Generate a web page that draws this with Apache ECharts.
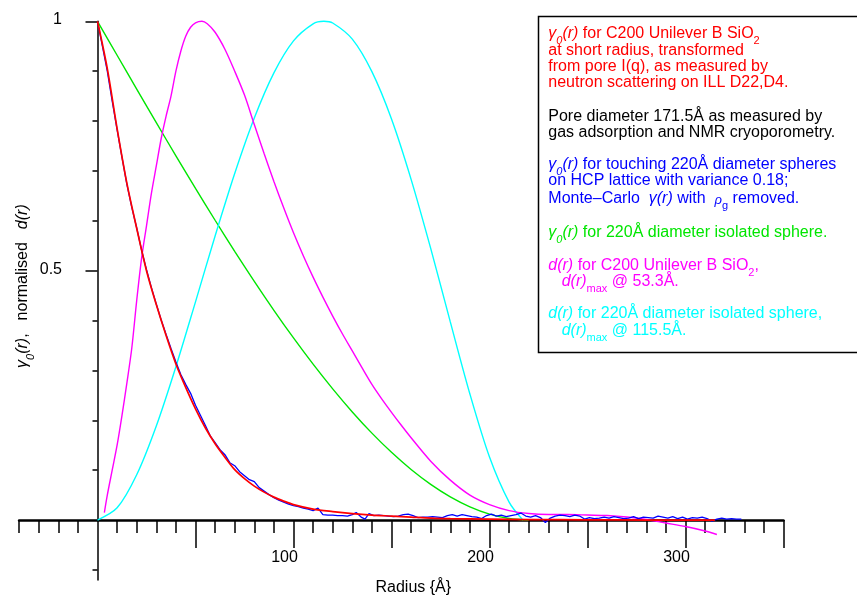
<!DOCTYPE html>
<html>
<head>
<meta charset="utf-8">
<script src="https://cdn.jsdelivr.net/npm/echarts@6/dist/echarts.min.js"></script>
<style>html,body{margin:0;padding:0;background:#fff}#c{width:857px;height:596px}</style>
</head>
<body>
<div id="c"></div>
<script>
// ---------- data (r in Å, normalised value) ----------
const redCurve = [[0,1.0],[5,0.905],[10,0.785],[15,0.675],[20,0.585],[25,0.50],[30,0.432],[35,0.37],[40,0.313],[45,0.266],[50,0.223],[55,0.185],[60,0.153],[65,0.126],[70,0.101],[75,0.083],[80,0.068],[85,0.056],[90,0.046],[95,0.038],[100,0.031],[110,0.022],[120,0.017],[130,0.013],[140,0.010],[150,0.008],[160,0.006],[170,0.004],[180,0.003],[200,0.002],[220,0.001],[250,0.0005],[280,0.0],[315,0.0]];

const blueCurve = [[0,1.0],[2.5,0.95],[5,0.9],[7.5,0.84],[10,0.783],[12.5,0.727],[15,0.673],[17.5,0.627],[20,0.586],[22.5,0.541],[25,0.502],[27.5,0.466],[30,0.433],[32.5,0.401],[35,0.372],[37.5,0.344],[40,0.317],[42.5,0.292],[45,0.272],[47.5,0.254],[50,0.23],[52.5,0.21],[55,0.19],[57.5,0.169],[60,0.155],[62.5,0.141],[65,0.131],[67.5,0.115],[70,0.109],[72.5,0.097],[75,0.089],[77.5,0.081],[80,0.077],[82.5,0.065],[85,0.058],[87.5,0.051],[90,0.045],[92.5,0.04],[95,0.036],[97.5,0.032],[100,0.029],[102.5,0.027],[105,0.024],[107.5,0.022],[110,0.019],[112.5,0.024],[115,0.011],[117.5,0.01],[120,0.01],[122.5,0.009],[125,0.009],[127.5,0.008],[130,0.011],[132,0.015],[134.5,0.006],[136.5,0.002],[138.5,0.013],[141,0.009],[143.5,0.01],[146,0.009],[148.5,0.008],[151,0.007],[153.5,0.008],[156,0.011],[158.5,0.012],[161,0.009],[163.5,0.005],[166,0.006],[168.5,0.006],[171,0.007],[173.5,0.006],[176,0.005],[178.5,0.009],[181,0.011],[183.5,0.008],[186,0.011],[188.5,0.009],[191,0.007],[193.5,0.006],[196,0.003],[198.5,0.009],[201,0.012],[203.5,0.008],[206,0.01],[208.5,0.007],[211,0.009],[213.5,0.011],[216,0.014],[218.5,0.008],[221,0.006],[223.5,0.009],[226,0.005],[228.5,-0.005],[231,0.004],[233.5,0.008],[236,0.01],[238.5,0.009],[241,0.007],[243.5,0.01],[246,0.008],[248.5,0.002],[251,0.005],[253.5,0.003],[256,0.004],[258.5,0.006],[261,0.004],[263.5,0.007],[266,0.005],[268.5,0.003],[271,0.004],[273.5,0.007],[276,0.003],[278.5,0.006],[281,0.005],[283.5,0.004],[286,0.008],[288.5,0.006],[291,0.004],[293.5,0.007],[296,0.003],[298.5,0.006],[301,0.002],[303.5,0.005],[306,0.004],[308.5,0.006],[311,0.003],[313.5,-0.002],[316,0.002],[318.5,0.004],[321,0.002],[323.5,0.003],[326,0.002],[328.5,0.002]];

const greenCurve = [[0,1],[10,0.9319],[20,0.864],[30,0.7967],[40,0.7303],[50,0.665],[60,0.6011],[70,0.5388],[80,0.4786],[90,0.4206],[100,0.3651],[110,0.3125],[120,0.263],[130,0.2168],[140,0.1743],[150,0.1358],[160,0.1014],[170,0.0716],[180,0.0466],[190,0.0266],[200,0.012],[210,0.0031],[220,0]];

const cyanCurve = [[0,0],[10,0.0245],[20,0.0909],[30,0.1887],[40,0.3075],[50,0.4375],[60,0.5695],[70,0.6948],[80,0.8061],[90,0.8966],[100,0.9608],[110,0.995],[115.5,1.0],[120,0.9966],[130,0.9642],[140,0.899],[150,0.8041],[160,0.6831],[170,0.5446],[180,0.3973],[190,0.2527],[200,0.1263],[210,0.036],[217,0]];

const magentaCurve = [[3.5,0.015],[5,0.05],[7.5,0.1],[10,0.15],[12.5,0.21],[15,0.275],[17.5,0.345],[20,0.44],[22.5,0.525],[25,0.59],[27.5,0.655],[30,0.71],[32.5,0.765],[35,0.81],[37.5,0.85],[40,0.9],[42.5,0.94],[45,0.97],[47.5,0.988],[50,0.997],[53.3,1.0],[56,0.995],[60,0.978],[65,0.944],[70,0.9],[75,0.852],[80,0.793],[85,0.735],[90,0.679],[95,0.626],[100,0.576],[105,0.53],[110,0.487],[115,0.447],[120,0.409],[125,0.373],[130,0.339],[135,0.305],[140,0.272],[145,0.243],[150,0.216],[155,0.19],[160,0.165],[170,0.118],[180,0.08],[190,0.05],[200,0.031],[210,0.019],[220,0.013],[230,0.011],[240,0.011],[250,0.010],[260,0.009],[270,0.006],[280,0.001],[290,-0.006],[300,-0.013],[310,-0.022],[316,-0.029]];

// ---------- ticks ----------
const xTicksMinor = [-40,-30,-20,-10,10,20,30,40,60,70,80,90,110,120,130,140,160,170,180,190,210,220,230,240,260,270,280,290,310,320,330,340];
const xTicksMajor = [50,100,150,200,250,300,350];
const xLabels = [100,200,300];
const yTicksMinor = [-0.1,0.1,0.2,0.3,0.4,0.6,0.7,0.8,0.9];
const yTicksMajor = [0.5,1];
const yLabels = [0.5,1];
const xName = 'Radius {Å}';

const FONT = "'Liberation Sans', Arial, Helvetica, sans-serif";

function richFor(color) {
  const base = {fontFamily: FONT, fill: color, color: color};
  return {
    n: Object.assign({}, base, {fontSize: 16, lineHeight: 21, verticalAlign: 'top'}),
    i: Object.assign({}, base, {fontSize: 16, lineHeight: 21, verticalAlign: 'top', fontStyle: 'italic'}),
    ir: Object.assign({}, base, {fontSize: 13, lineHeight: 21, verticalAlign: 'top', fontStyle: 'italic', padding: [3, 0, 0, 0]}),
    s: Object.assign({}, base, {fontSize: 11, lineHeight: 21, verticalAlign: 'bottom'}),
    si: Object.assign({}, base, {fontSize: 11, lineHeight: 21, verticalAlign: 'bottom', fontStyle: 'italic'}),
    g: Object.assign({}, base, {fontSize: 16, lineHeight: 21, verticalAlign: 'top', width: 13})
  };
}

const yNameRich = '{i|γ}{si|0}{i|(r)}{n|,}{g| }{n|normalised}{g| }{i|d(r)}';

const legendLines = [
  {t: '{i|γ}{si|0}{i|(r)}{n| for C200 Unilever B SiO}{s|2}', c: '#ff0000', x: 548.3, b: 39.3},
  {t: '{n|at short radius, transformed}', c: '#ff0000', x: 548.3, b: 55.7},
  {t: '{n|from pore I(q), as measured by}', c: '#ff0000', x: 548.3, b: 71.7},
  {t: '{n|neutron scattering on ILL D22,D4.}', c: '#ff0000', x: 548.3, b: 87.7},
  {t: '{n|Pore diameter 171.5Å as measured by}', c: '#000000', x: 548.3, b: 121.7},
  {t: '{n|gas adsorption and NMR cryoporometry.}', c: '#000000', x: 548.3, b: 137.7},
  {t: '{i|γ}{si|0}{i|(r)}{n| for touching 220Å diameter spheres}', c: '#0000ff', x: 548.3, b: 170},
  {t: '{n|on HCP lattice with variance 0.18;}', c: '#0000ff', x: 548.3, b: 186},
  {t: '{n|Monte–Carlo  }{i|γ(r)}{n| with  }{ir|ρ}{s|g}{n| removed.}', c: '#0000ff', x: 548.3, b: 204.5},
  {t: '{i|γ}{si|0}{i|(r)}{n| for 220Å diameter isolated sphere.}', c: '#00e600', x: 548.3, b: 238.3},
  {t: '{i|d(r)}{n| for C200 Unilever B SiO}{s|2}{n|,}', c: '#ff00ff', x: 548.3, b: 270.7},
  {t: '{i|d(r)}{s|max}{n| @ 53.3Å.}', c: '#ff00ff', x: 561.7, b: 286.7},
  {t: '{i|d(r)}{n| for 220Å diameter isolated sphere,}', c: '#00ffff', x: 548.3, b: 319.3},
  {t: '{i|d(r)}{s|max}{n| @ 115.5Å.}', c: '#00ffff', x: 561.7, b: 336}
];

const tickLine = {color: '#000', width: 1.5};

function line(data, color, width, smooth) {
  return {type: 'line', data: data, xAxisIndex: 0, yAxisIndex: 0, showSymbol: false, symbol: 'none',
    smooth: smooth, lineStyle: {color: color, width: width}, silent: true, clip: false};
}

const chart = echarts.init(document.getElementById('c'), null, {renderer: 'canvas'});
chart.setOption({
  animation: false,
  backgroundColor: '#ffffff',
  grid: {left: 19.1, right: 73.5, top: 21.3, bottom: 16.1, containLabel: false, outerBoundsMode: 'none'},
  xAxis: [{
    type: 'value', min: -40, max: 350, position: 'bottom',
    axisLine: {onZero: true, onZeroAxisIndex: 0, lineStyle: {color: '#000', width: 2.5}},
    axisTick: {show: true, customValues: xTicksMinor, length: 13, inside: false, lineStyle: tickLine},
    axisLabel: {show: false},
    splitLine: {show: false}
  }, {
    type: 'value', min: -40, max: 350, position: 'bottom',
    axisLine: {show: false, onZero: true, onZeroAxisIndex: 0},
    axisTick: {show: true, customValues: xTicksMajor, length: 28, inside: false, lineStyle: tickLine},
    axisLabel: {show: false},
    splitLine: {show: false}
  }],
  yAxis: [{
    type: 'value', min: -0.12, max: 1, position: 'left',
    axisLine: {onZero: true, onZeroAxisIndex: 0, lineStyle: {color: '#000', width: 1.5}},
    axisTick: {show: true, customValues: yTicksMinor, length: 5, inside: false, lineStyle: tickLine},
    axisLabel: {show: false},
    splitLine: {show: false}
  }, {
    type: 'value', min: -0.12, max: 1, position: 'left',
    axisLine: {show: false, onZero: true, onZeroAxisIndex: 0},
    axisTick: {show: true, customValues: yTicksMajor, length: 12, inside: false, lineStyle: tickLine},
    axisLabel: {show: false},
    splitLine: {show: false}
  }],
  series: [
    line(greenCurve, '#00e600', 1.4, 0.3),
    line(cyanCurve, '#00ffff', 1.4, 0.3),
    line(magentaCurve, '#ff00ff', 1.4, 0.3),
    line(blueCurve, '#0000ff', 1.3, false),
    line(redCurve, '#ff0000', 1.7, 0.3)
  ]
});

// ---------- axis tick labels, axis names and annotation box (placed through the axis scales) ----------
function px(v) { return chart.convertToPixel({xAxisIndex: 0, yAxisIndex: 0}, v); }
const origin = px([0, 0]);
const graphics = [{
  type: 'rect', z: 0,
  shape: {x: 538.5, y: 16.5, width: 330, height: 336},
  style: {fill: '#fff', stroke: '#000', lineWidth: 1.5}
}];
xLabels.forEach(function (v) {
  const p = px([v, 0]);
  graphics.push({type: 'text', x: p[0] - 9, y: p[1] + 37.5, z: 10,
    style: {text: String(v), fill: '#000', fontSize: 16, fontFamily: FONT, align: 'center', verticalAlign: 'middle'}});
});
yLabels.forEach(function (v) {
  const p = px([0, v]);
  graphics.push({type: 'text', x: p[0] - 35.5, y: p[1] - 1.5, z: 10,
    style: {text: String(v), fill: '#000', fontSize: 16, fontFamily: FONT, align: 'right', verticalAlign: 'middle'}});
});
const xLeft = px([-40, 0]), xRight = px([350, 0]);
graphics.push({type: 'text', x: (xLeft[0] + xRight[0]) / 2 + 12, y: origin[1] + 68, z: 10,
  style: {text: xName, fill: '#000', fontSize: 16, fontFamily: FONT, align: 'center', verticalAlign: 'middle'}});
const yTop = px([0, 1]), yBot = px([0, -0.12]);
graphics.push({type: 'text', x: origin[0] - 72, y: (yTop[1] + yBot[1]) / 2 - 14.5, rotation: Math.PI / 2, z: 10,
  style: {text: yNameRich, rich: richFor('#000'), fill: '#000', fontSize: 16, fontFamily: FONT, align: 'center', verticalAlign: 'middle'}});
legendLines.forEach(function (l) {
  graphics.push({
    type: 'text', x: l.x, y: l.b - 13.6, z: 10,
    style: {text: l.t, rich: richFor(l.c), fill: l.c, fontSize: 16, fontFamily: FONT, align: 'left', verticalAlign: 'top'}
  });
});
chart.setOption({graphic: graphics});
</script>
</body>
</html>
